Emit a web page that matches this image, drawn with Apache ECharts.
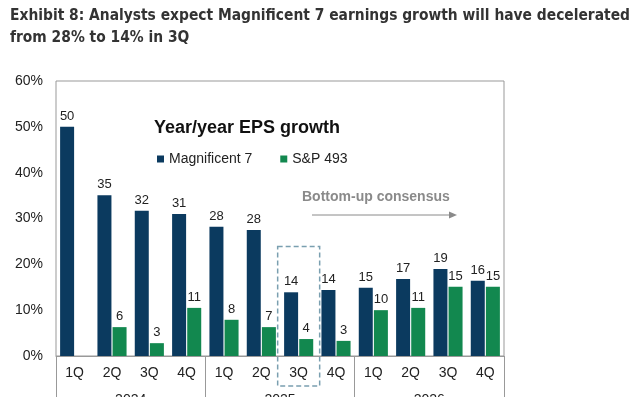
<!DOCTYPE html>
<html>
<head>
<meta charset="utf-8">
<script src="https://cdn.jsdelivr.net/npm/echarts@6/dist/echarts.min.js"></script>
<style>
html,body{margin:0;padding:0;background:#fff;}
#chart{width:636px;height:397px;}
</style>
</head>
<body>
<div id="chart"></div>
<script>
// quarters and years
const quarters = ['1Q','2Q','3Q','4Q','1Q','2Q','3Q','4Q','1Q','2Q','3Q','4Q'];
const years = ['2024','2025','2026'];
// yoy eps growth, %
const mag7 = [50, 35, 32, 31, 28, 28, 14, 14, 15, 17, 19, 16];
const mag7Bar = [50, 35.1, 31.7, 31, 28.2, 27.5, 13.9, 14.4, 14.9, 16.8, 19, 16.4];
const sp493 = [null, 6, 3, 11, 8, 7, 4, 3, 10, 11, 15, 15];
const sp493Bar = [null, 6.3, 2.8, 10.5, 7.9, 6.3, 3.7, 3.3, 10, 10.5, 15.1, 15.1];
const yTicks = [0, 10, 20, 30, 40, 50, 60];
const highlightIdx = 6; // 3Q25

const font = 'Liberation Sans, Arial, sans-serif';
let myChart = echarts.init(document.getElementById('chart'));

let makeData = (bars, labels) => bars.map((v, i) => ({
    value: v,
    label: { formatter: labels[i] == null ? '' : String(labels[i]) }
}));

let option = {
    animation: false,
    title: [
        {
            text: 'Exhibit 8: Analysts expect Magnificent 7 earnings growth will have decelerated\nfrom 28% to 14% in 3Q',
            left: 5,
            top: 0,
            textStyle: {
                fontFamily: 'DejaVu Sans Condensed, Liberation Sans Narrow, sans-serif',
                fontWeight: 'bold',
                fontSize: 15.4,
                lineHeight: 22,
                color: '#333'
            }
        },
        {
            text: 'Year/year EPS growth',
            left: 149,
            top: 114,
            textStyle: {
                fontFamily: font,
                fontWeight: 'bold',
                fontSize: 18,
                color: '#111'
            }
        }
    ],
    legend: {
        left: 152,
        top: 147,
        icon: 'rect',
        itemWidth: 7,
        itemHeight: 7,
        itemGap: 28,
        textStyle: { fontFamily: font, fontSize: 14, color: '#222' },
        data: ['Magnificent 7', 'S&P 493']
    },
    color: ['#0b3a5f', '#12884f'],
    grid: {
        left: 56,
        right: 132,
        top: 81,
        bottom: 41,
        outerBoundsMode: 'none',
        show: true,
        borderColor: '#999',
        borderWidth: 1
    },
    xAxis: [
        {
            type: 'category',
            data: quarters,
            axisLine: { lineStyle: { color: '#999' } },
            axisTick: { show: false },
            axisLabel: { fontFamily: font, fontSize: 14, color: '#222', margin: 10 }
        },
        {
            type: 'category',
            data: years,
            position: 'bottom',
            axisLine: { show: false },
            axisTick: { show: true, length: 45, lineStyle: { color: '#999' } },
            axisLabel: { fontFamily: font, fontSize: 14, color: '#222', margin: 37 }
        }
    ],
    yAxis: {
        type: 'value',
        min: yTicks[0],
        max: yTicks[yTicks.length - 1],
        interval: 10,
        splitLine: { show: false },
        axisLine: { show: false },
        axisTick: { show: false },
        axisLabel: {
            formatter: '{value}%',
            fontFamily: font,
            fontSize: 14,
            color: '#222',
            margin: 13
        }
    },
    series: [
        {
            name: 'Magnificent 7',
            type: 'bar',
            barWidth: 14,
            barGap: '8%',
            data: makeData(mag7Bar, mag7),
            label: { show: true, position: 'top', distance: 4, fontFamily: font, fontSize: 13, color: '#222' }
        },
        {
            name: 'S&P 493',
            type: 'bar',
            barWidth: 14,
            data: makeData(sp493Bar, sp493),
            label: { show: true, position: 'top', distance: 4, fontFamily: font, fontSize: 13, color: '#222' }
        }
    ]
};
myChart.setOption(option);

// dashed box around the current quarter + consensus arrow
let cx = myChart.convertToPixel({ xAxisIndex: 0 }, highlightIdx);
let yTop = myChart.convertToPixel({ yAxisIndex: 0 }, 23.9);
let yZero = myChart.convertToPixel({ yAxisIndex: 0 }, 0);
myChart.setOption({
    graphic: [
        {
            type: 'rect',
            shape: { x: cx - 21, y: yTop, width: 42, height: yZero + 30 - yTop },
            style: { fill: 'none', stroke: '#7a9fb0', lineWidth: 1.5, lineDash: [5, 3] }
        },
        {
            type: 'text',
            x: 302,
            y: 190,
            style: { text: 'Bottom-up consensus', font: 'bold 14px ' + font, fill: '#8a8a8a' }
        },
        {
            type: 'line',
            shape: { x1: 312, y1: 215, x2: 450, y2: 215 },
            style: { stroke: '#8a8a8a', lineWidth: 1 }
        },
        {
            type: 'polygon',
            shape: { points: [[449, 211.5], [457, 215], [449, 218.5]] },
            style: { fill: '#8a8a8a' }
        }
    ]
});
</script>
</body>
</html>
